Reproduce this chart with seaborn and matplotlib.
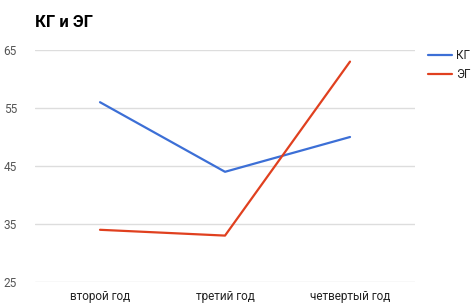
import matplotlib
matplotlib.use("Agg")
import matplotlib.pyplot as plt
import seaborn as sns
import pandas as pd

# Data
years = ["второй год", "третий год", "четвертый год"]
kg_values = [56, 44, 50]
eg_values = [34, 33, 63]
series_names = ["КГ", "ЭГ"]
y_ticks = [25, 35, 45, 55, 65]

df = pd.DataFrame({
    "year": years * 2,
    "value": kg_values + eg_values,
    "group": [series_names[0]] * 3 + [series_names[1]] * 3,
})
df["pos"] = [0, 1, 2] * 2

sns.set_style("white")
plt.rcParams["font.family"] = ["Roboto", "DejaVu Sans"]

fig = plt.figure(figsize=(4.75, 3.04), dpi=100)
ax = fig.add_axes([0.0737, 0.0724, 0.80, 0.7631])

palette = {"КГ": "#3c6fd6", "ЭГ": "#e0401f"}
sns.lineplot(data=df, x="pos", y="value", hue="group", palette=palette,
             linewidth=1.6, ax=ax, legend=False)

ax.set_xlim(-0.52, 2.52)
ax.set_ylim(25, 65)
ax.set_yticks(y_ticks)
ax.set_yticklabels([str(t) for t in y_ticks])
ax.set_xticks([0, 1, 2])
ax.set_xticklabels(years)
ax.tick_params(axis="y", length=0, pad=13, labelsize=8.5, labelcolor="#555555")
ax.tick_params(axis="x", length=0, pad=6, labelsize=8.5, labelcolor="#222222")
for y in y_ticks:
    ax.axhline(y, color="#dddddd", linewidth=1, zorder=0)
for side in ["top", "right", "left", "bottom"]:
    ax.spines[side].set_visible(False)
ax.set_xlabel("")
ax.set_ylabel("")

fig.text(0.074, 0.925, "КГ и ЭГ", fontsize=12, fontweight="bold",
         color="#000000", ha="left", va="center")

# legend on the right
for i, name in enumerate(series_names):
    yy = 0.818 - i * 0.062
    fig.add_artist(plt.Line2D([0.900, 0.952], [yy, yy], color=palette[name],
                              linewidth=1.6, transform=fig.transFigure))
    fig.text(0.960, yy, name, fontsize=8.5, color="#222222", ha="left", va="center")

fig.savefig("out.png", dpi=100)
